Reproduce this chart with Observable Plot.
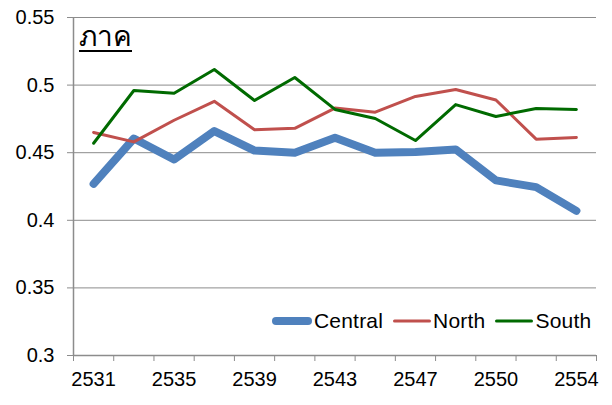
<!DOCTYPE html>
<html>
<head>
<meta charset="utf-8">
<script src="https://cdn.jsdelivr.net/npm/d3@7"></script>
<script src="https://cdn.jsdelivr.net/npm/@observablehq/plot@0.6"></script>
<style>
  html, body { margin: 0; padding: 0; background: #fff; }
  #wrap { position: relative; width: 612px; height: 405px; font-family: "Liberation Sans", Arial, sans-serif; }
  #title { position: absolute; left: 79px; top: 23px; font-size: 28px; line-height: 1; text-decoration: underline; text-decoration-thickness: 2px; text-underline-offset: 4px; color: #000; }
  #legend { position: absolute; left: 272px; top: 309px; display: flex; align-items: center; font-size: 21px; letter-spacing: 0.2px; color: #000; }
  #legend .item { display: flex; align-items: center; margin-right: 10px; }
  #legend svg { display: block; margin-right: 2px; }
</style>
</head>
<body>
<div id="wrap">
  <div id="chart"></div>
  <div id="title"></div>
  <div id="legend"></div>
</div>
<script>
const years = ["2531","2533","2535","2537","2539","2541","2543","2545","2547","2549","2550","2552","2554"];
const tickYears = ["2531","2535","2539","2543","2547","2550","2554"];
const central = [0.427,0.4605,0.445,0.466,0.4516,0.450,0.461,0.450,0.4505,0.4524,0.4295,0.4245,0.407];
const north   = [0.465,0.458,0.474,0.488,0.467,0.468,0.483,0.480,0.4916,0.4967,0.489,0.460,0.4612];
const south   = [0.457,0.496,0.494,0.5115,0.4886,0.5056,0.482,0.4753,0.459,0.4856,0.4768,0.4827,0.482];
const seriesNames = ["Central","North","South"];
const seriesColors = ["#4F81BD","#C0504D","#006A00"];
const seriesWidths = [8, 3, 3];
const yTicks = [0.3,0.35,0.4,0.45,0.5,0.55];
const titleText = "ภาค";

const seriesValues = [central, north, south];
const rows = [];
seriesNames.forEach((s, k) => seriesValues[k].forEach((v, i) => rows.push({series: s, i: i + 0.5, year: years[i], value: v})));

const boundaries = d3.range(0, years.length + 1);
const labelPos = tickYears.map(y => years.indexOf(y) + 0.5);

const font = "Liberation Sans, Arial, sans-serif";
const grid = "#8c8c8c";

const chart = Plot.plot({
  width: 612,
  height: 405,
  marginLeft: 73,
  marginRight: 16,
  marginTop: 17,
  marginBottom: 50,
  style: {fontFamily: font, fontSize: "20px", color: "#000", background: "#fff"},
  x: {type: "linear", domain: [0, years.length]},
  y: {domain: [0.3, 0.55]},
  marks: [
    Plot.ruleY(yTicks, {stroke: grid, strokeWidth: 1}),
    Plot.ruleX([0], {stroke: grid, strokeWidth: 1.5}),
    Plot.axisY({ticks: yTicks, tickFormat: d => String(+d.toFixed(2)), tickSize: 6, tickPadding: 13, stroke: grid, label: null, fontSize: 20}),
    Plot.axisX({ticks: boundaries, tickFormat: () => "", tickSize: 6, stroke: grid, label: null}),
    Plot.axisX({ticks: labelPos, tickFormat: d => years[Math.round(d - 0.5)], tickSize: 0, tickPadding: 16, label: null, fontSize: 20}),
    Plot.ruleY([0.3], {stroke: grid, strokeWidth: 1.5}),
    ...seriesNames.map((s, k) => Plot.line(rows.filter(r => r.series === s), {
      x: "i", y: "value", stroke: seriesColors[k], strokeWidth: seriesWidths[k], strokeLinecap: "round", strokeLinejoin: "round"
    }))
  ]
});
document.getElementById("chart").appendChild(chart);

document.getElementById("title").textContent = titleText;

const legend = d3.select("#legend");
seriesNames.forEach((s, k) => {
  const item = legend.append("div").attr("class", "item");
  const w = k === 0 ? 40 : 38;
  const svg = item.append("svg").attr("width", w).attr("height", 12);
  svg.append("line").attr("x1", seriesWidths[k] / 2).attr("x2", w - seriesWidths[k] / 2).attr("y1", 6).attr("y2", 6)
    .attr("stroke", seriesColors[k]).attr("stroke-width", seriesWidths[k]).attr("stroke-linecap", "round");
  item.append("span").text(s);
});
</script>
</body>
</html>
